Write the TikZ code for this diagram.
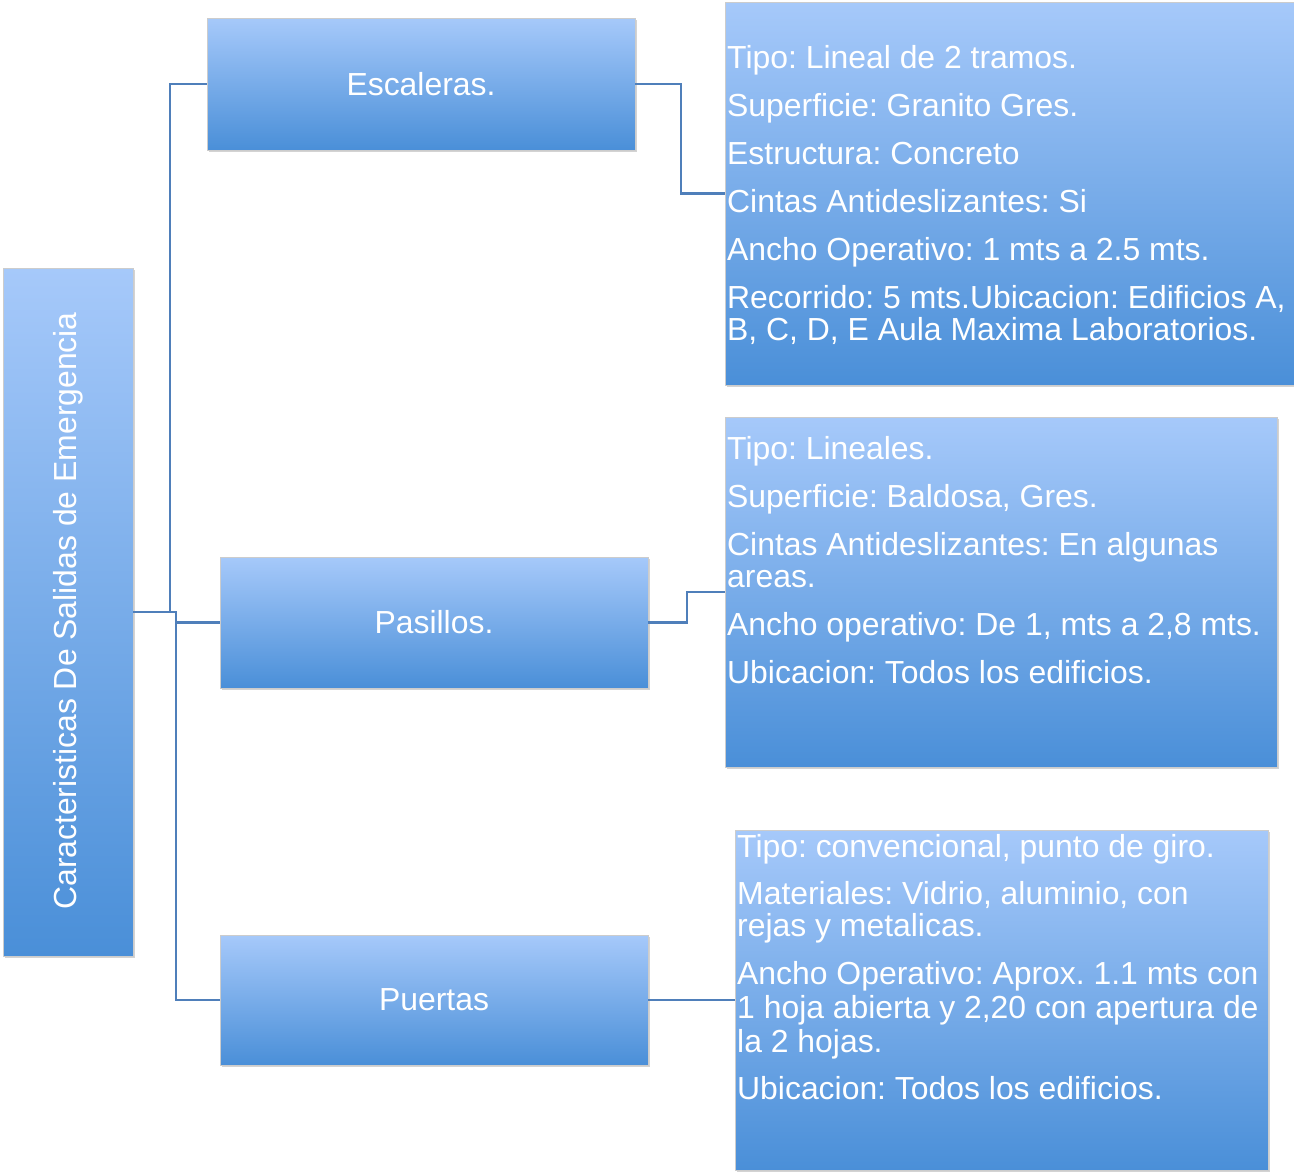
\documentclass[tikz,border=0pt]{standalone}
\usepackage{fontspec}
\setmainfont{Liberation Sans}
\usetikzlibrary{shadows}
\frenchspacing

\definecolor{boxtop}{RGB}{166,201,250}
\definecolor{boxbot}{RGB}{74,143,216}
\definecolor{linea}{RGB}{79,127,186}

\begin{document}
\begin{tikzpicture}[x=1pt,y=-1pt]

\tikzset{caja/.style = {shape=rectangle, draw=gray!40, line width=0.6pt, top color=boxtop, bottom color=boxbot, drop shadow={shadow xshift=2pt, shadow yshift=-2pt, opacity=0.35}, inner sep=0pt}}
\tikzset{texto/.style = {text=white, font=\fontsize{31.9}{32}\selectfont, inner sep=0pt}}
\tikzset{lista/.style = {texto, align=left, anchor=north west}}
\tikzset{conn/.style = {draw=linea, line width=2.4pt}}

\useasboundingbox (0,0) rectangle (1294,1173);

%cajas
\node[caja, minimum width=130, minimum height=688] (main) at (68,612) {};
\node[texto, rotate=90] (maintxt) at (68,611) {Caracteristicas De Salidas de Emergencia};
\node[caja, texto, minimum width=428, minimum height=132] (esc) at (421,84) {Escaleras.};
\node[caja, texto, minimum width=428, minimum height=131] (pas) at (434,622.5) {Pasillos.};
\node[caja, texto, minimum width=428, minimum height=130] (pue) at (434,1000) {Puertas};
\node[caja, minimum width=569, minimum height=383] (det1) at (1009.5,193.5) {};
\node[caja, minimum width=552, minimum height=350] (det2) at (1001,592) {};
\node[caja, minimum width=533, minimum height=340] (det3) at (1001.5,1000) {};

%textos
\node[lista] (txt1) at (727,45) {Tipo: Lineal de 2 tramos.\\[16pt]
Superficie: Granito Gres.\\[16pt]
Estructura: Concreto\\[16pt]
Cintas Antideslizantes: Si\\[16pt]
Ancho Operativo: 1 mts a 2.5 mts.\\[16pt]
Recorrido: 5 mts.Ubicacion: Edificios A,\\
B, C, D, E Aula Maxima Laboratorios.};
\node[lista] (txt2) at (727,436) {Tipo: Lineales.\\[16pt]
Superficie: Baldosa, Gres.\\[16pt]
Cintas Antideslizantes: En algunas\\
areas.\\[16pt]
Ancho operativo: De 1, mts a 2,8 mts.\\[16pt]
Ubicacion: Todos los edificios.};
\node[lista] (txt3) at (737,834) {Tipo: convencional, punto de giro.\\[15pt]
Materiales: Vidrio, aluminio, con\\
rejas y metalicas.\\[16pt]
Ancho Operativo: Aprox. 1.1 mts con\\[2pt]
1 hoja abierta y 2,20 con apertura de\\[2pt]
la 2 hojas.\\[15pt]
Ubicacion: Todos los edificios.};

%conexiones
\coordinate (j1) at (170,612);
\coordinate (j2) at (176,612);
\coordinate (j3) at (681,84);
\coordinate (j4) at (687,622.5);
\draw[conn] (main.east) -- (j1) |- (esc.west);
\draw[conn] (main.east) -- (j2) |- (pas.west);
\draw[conn] (j2) |- (pue.west);
\draw[conn] (esc.east) -- (j3) |- (det1.west);
\draw[conn] (pas.east) -- (j4) |- (det2.west);
\draw[conn] (pue.east) -- (det3.west);

\end{tikzpicture}
\end{document}
